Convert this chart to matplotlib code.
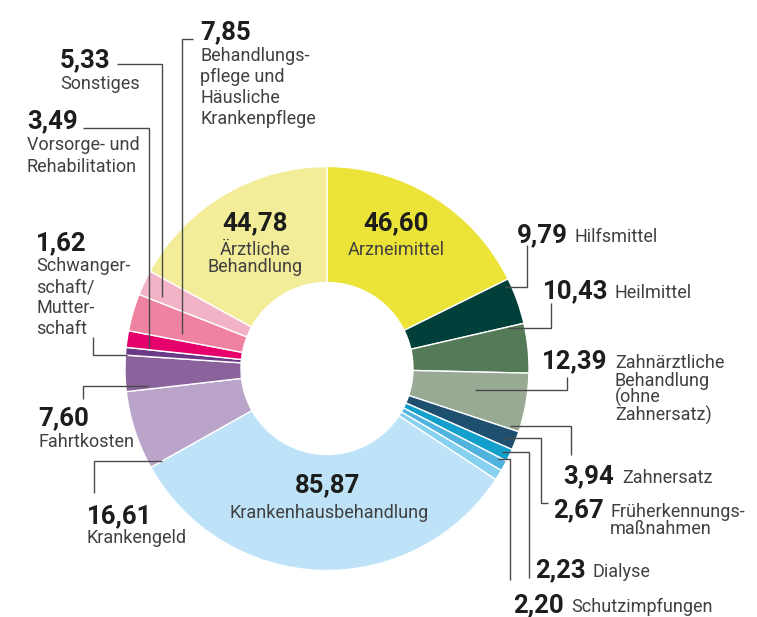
import matplotlib
matplotlib.use('Agg')
import matplotlib.pyplot as plt
import numpy as np

W, H = 757, 617

# ---------------- data ----------------
categories = [
    'Arzneimittel', 'Hilfsmittel', 'Heilmittel',
    'Zahnärztliche\nBehandlung\n(ohne\nZahnersatz)', 'Zahnersatz',
    'Früherkennungs-\nmaßnahmen', 'Dialyse', 'Schutzimpfungen',
    'Krankenhausbehandlung', 'Krankengeld', 'Fahrtkosten',
    'Schwanger-\nschaft/\nMutter-\nschaft', 'Vorsorge- und\nRehabilitation',
    'Behandlungs-\npflege und\nHäusliche\nKrankenpflege', 'Sonstiges',
    'Ärztliche\nBehandlung',
]
values = [46.60, 9.79, 10.43, 12.39, 3.94, 2.67, 2.23, 2.20,
          85.87, 16.61, 7.60, 1.62, 3.49, 7.85, 5.33, 44.78]
value_labels = [f"{v:.2f}".replace('.', ',') for v in values]

colors = ['#ECE338', '#013F3A', '#557A57', '#98A994', '#1F4F6E',
          '#139FCC', '#4FB3DE', '#86D0F0', '#BEE3F8', '#BBA4C9',
          '#8A629C', '#6A3A86', '#E5006C', '#EE82A0', '#F3B3C6',
          '#F3ED9A']

# ---------------- layout (pixel coords, y from top) ----------------
CX, CY, R_OUT, R_IN = 327, 368.5, 202, 86

num_pos = {0: (396, 230, 'center'), 1: (517, 242, 'left'), 2: (543, 298, 'left'),
           3: (542, 368, 'left'), 4: (563, 483, 'left'), 5: (553, 517, 'left'),
           6: (535, 577, 'left'), 7: (513, 612, 'left'), 8: (328, 492, 'center'),
           9: (87, 523, 'left'), 10: (38, 425, 'left'), 11: (36, 250, 'left'),
           12: (27, 128, 'left'), 13: (200, 39, 'left'), 14: (60, 67, 'left'),
           15: (255, 230, 'center')}
txt_pos = {0: (396, 255, 'center', 17), 1: (574, 242, 'left', 17), 2: (615, 298, 'left', 17),
           3: (615, 368, 'left', 17.5), 4: (622, 483, 'left', 17), 5: (610, 517, 'left', 17),
           6: (593, 577, 'left', 17), 7: (571, 612, 'left', 17), 8: (329, 518, 'center', 17),
           9: (87, 543, 'left', 21), 10: (38, 447, 'left', 21), 11: (36, 271, 'left', 21),
           12: (27, 150, 'left', 21.5), 13: (200, 61, 'left', 21), 14: (60, 89, 'left', 21),
           15: (255, 255, 'center', 17)}
# leader: (type, fraction within wedge, radius, elbow/end x, end y, hook x)
leaders = {1: ('h', 0.13, 196, 527, 245, None), 2: ('h', 0.02, 186, 551, 303, None),
           3: ('h', 0.41, 150, 567, 377, None), 4: ('h', -0.16, 192, 571, 455, None),
           5: ('h', -0.59, 189, 541, 503, 548), 6: ('h', -0.59, 194, 529, 578, None),
           7: ('h', -0.82, 193, 510, 580, None),
           9: ('h', 0.0, 189, 94, 493, None), 10: ('h', 0.1, 180, 83, 399, None),
           11: ('h', 0.05, 200, 93, 337, None),
           12: ('v', 0.1, 179, 83, 128, None), 13: ('v', 0.24, 149, 193, 39, None),
           14: ('v', 0.26, 180, 117, 64, None)}

FONT = 'Roboto'
NUM_COLOR = '#1d1d1b'
TXT_COLOR = '#404040'
LINE_COLOR = '#4a4a4a'

fig = plt.figure(figsize=(W / 100, H / 100), dpi=100)
ax = fig.add_axes([0, 0, 1, 1])

def Y(y):
    return H - y

wedges, _ = ax.pie(values, colors=colors, startangle=90, counterclock=False,
                   radius=R_OUT, center=(CX, Y(CY)),
                   wedgeprops=dict(width=R_OUT - R_IN, edgecolor='white', linewidth=1.0))

ax.set_xlim(0, W)
ax.set_ylim(0, H)
ax.set_aspect('auto')
ax.axis('off')

# leader lines
for i, (kind, frac, r, ex, ey, hook) in leaders.items():
    w = wedges[i]
    ang = np.deg2rad(w.theta2 - frac * (w.theta2 - w.theta1))
    axp = CX + r * np.cos(ang)
    ayp = CY - r * np.sin(ang)
    if kind == 'h':
        xs = [axp, ex, ex]
        ys = [ayp, ayp, ey]
        if hook is not None:
            xs.append(hook)
            ys.append(ey)
    else:
        xs = [axp, axp, ex]
        ys = [ayp, ey, ey]
    ax.plot(xs, [Y(v) for v in ys], color=LINE_COLOR, lw=1.0, solid_joinstyle='miter',
            solid_capstyle='butt')

# texts
for i in range(len(values)):
    nx, ny, nha = num_pos[i]
    ax.text(nx, Y(ny), value_labels[i], ha=nha, va='baseline', fontsize=18.5,
            fontweight='bold', family=FONT, color=NUM_COLOR)
    tx, ty, tha, step = txt_pos[i]
    for k, line in enumerate(categories[i].split('\n')):
        ax.text(tx, Y(ty + k * step), line, ha=tha, va='baseline', fontsize=13,
                family=FONT, color=TXT_COLOR)

fig.savefig('out.png', dpi=100, facecolor='white')
